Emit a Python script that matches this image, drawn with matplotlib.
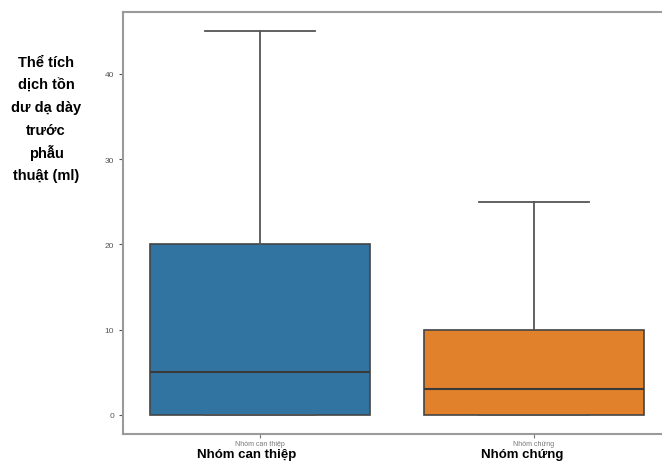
import matplotlib
matplotlib.use("Agg")
import matplotlib.pyplot as plt

# box statistics
groups = ["Nhóm can thiệp", "Nhóm chứng"]
whislo = [0, 0]
q1 = [0, 0]
med = [5, 3]
q3 = [20, 10]
whishi = [45, 25]
colors = ["#3274a1", "#e1812c"]
yticks = [0, 10, 20, 30, 40]

plt.rcParams['font.family'] = ['Liberation Sans', 'DejaVu Sans']

fig = plt.figure(figsize=(6.62, 4.64), dpi=100)
ax = fig.add_axes([123 / 662, 1 - 435 / 464, 548 / 662, 422 / 464])

stats = []
for i, g in enumerate(groups):
    stats.append(dict(label=g, whislo=whislo[i], q1=q1[i], med=med[i],
                      q3=q3[i], whishi=whishi[i], fliers=[]))

edge = "#444444"
bp = ax.bxp(stats, positions=[0, 1], widths=0.8, patch_artist=True,
            showfliers=False,
            boxprops=dict(edgecolor=edge, linewidth=1.2),
            medianprops=dict(color="#3a3a3a", linewidth=1.5),
            whiskerprops=dict(color="#555555", linewidth=1.3),
            capprops=dict(color="#555555", linewidth=1.3))
for patch, c in zip(bp["boxes"], colors):
    patch.set_facecolor(c)

ax.set_xlim(-0.5, 1.5)
ax.set_ylim(-2.25, 47.25)
ax.set_yticks(yticks)
ax.set_xticks([0, 1])
ax.set_xticklabels(groups, fontsize=5, color="#d0d0d0")
ax.tick_params(axis="y", labelsize=6, colors="#555555", length=3, width=0.8)
ax.tick_params(axis="x", length=3, width=0.8, colors="#777777", pad=1)
for s in ax.spines.values():
    s.set_color("#9a9a9a")
    s.set_linewidth(1.5)

# bold group names under the axis
fig.text(247 / 662, 1 - 455 / 464, groups[0], fontsize=9.5, fontweight="bold",
         ha="center", va="center")
fig.text(522 / 662, 1 - 455 / 464, groups[1], fontsize=9.5, fontweight="bold",
         ha="center", va="center")

ylab = ["Thể tích", "dịch tồn", "dư dạ dày", "trước", "phẫu", "thuật (ml)"]
for i, line in enumerate(ylab):
    fig.text(46 / 662, 1 - (63 + i * 22.6) / 464, line, fontsize=10.5,
             fontweight="bold", ha="center", va="center")

fig.savefig("out.png", dpi=100)
